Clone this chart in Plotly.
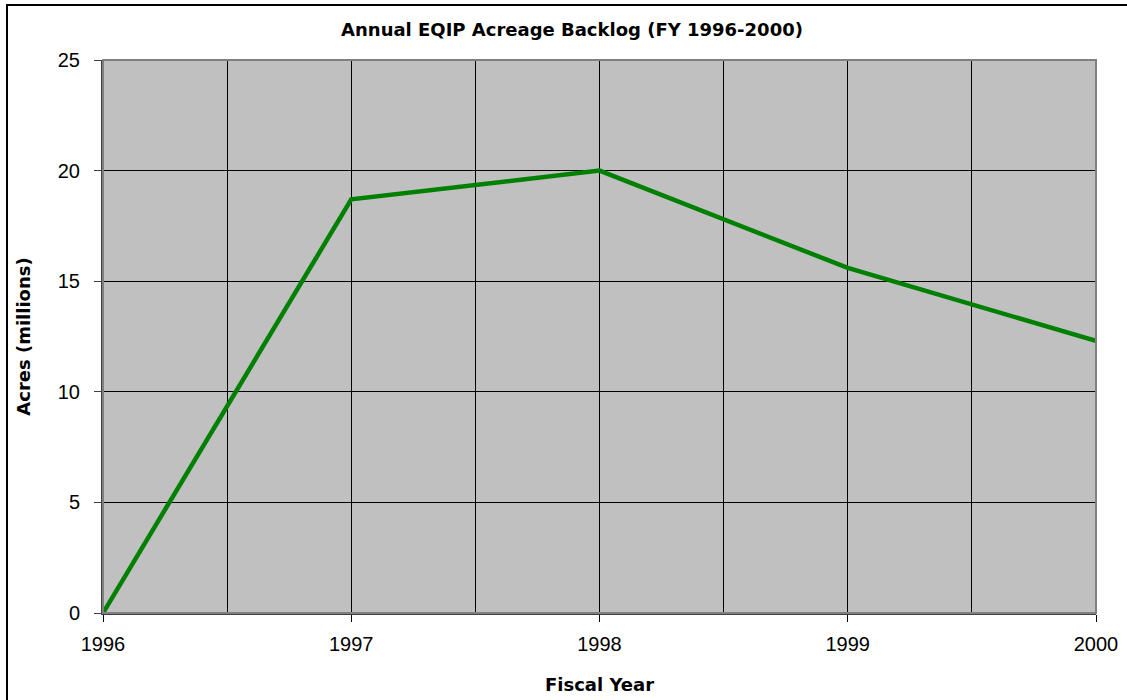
import plotly.graph_objects as go

years = [1996, 1997, 1998, 1999, 2000]
acres = [0.0, 18.7, 20.0, 15.6, 12.3]
year_labels = ["1996", "1997", "1998", "1999", "2000"]

L, R, T, B = 103, 31, 60, 87
W, H = 1127, 700
pw, ph = W - L - R, H - T - B

fig = go.Figure()
fig.add_trace(go.Scatter(x=years, y=acres, mode="lines",
                         line=dict(color="#008000", width=4.5),
                         cliponaxis=False, showlegend=False, hoverinfo="x+y"))

font = "Liberation Sans, Arial, sans-serif"
bold = "DejaVu Sans, Liberation Sans, sans-serif"
fig.update_layout(
    width=W, height=H,
    margin=dict(l=L, r=R, t=T, b=B, autoexpand=False),
    paper_bgcolor="white",
    plot_bgcolor="#C0C0C0",
    font=dict(family=font, color="black", size=20),
    title=dict(text="<b>Annual EQIP Acreage Backlog (FY 1996-2000)</b>",
               x=572 / W, xanchor="center", y=1 - 30 / H, yanchor="middle",
               font=dict(size=18, family=bold)),
    xaxis=dict(range=[1996, 2000], tickvals=years, ticktext=year_labels,
               showgrid=True, gridcolor="#000000", gridwidth=1,
               minor=dict(dtick=0.5, tick0=1996, showgrid=True, gridcolor="#000000", gridwidth=1),
               ticks="outside", ticklen=7, tickcolor="#000000",
               showline=True, linecolor="#404040", linewidth=2,
               zeroline=False, ticklabelstandoff=5, automargin=False,
               title=dict(text="<b>Fiscal Year</b>", font=dict(size=18, family=bold), standoff=24)),
    yaxis=dict(range=[0, 25], dtick=5, tick0=0,
               showgrid=True, gridcolor="#000000", gridwidth=1,
               ticks="outside", ticklen=7, tickcolor="#404040",
               showline=True, linecolor="#404040", linewidth=2,
               zeroline=False, ticklabelstandoff=10, automargin=False,
               title=dict(text="<b>Acres (millions)</b>", font=dict(size=18, family=bold), standoff=22)),
    shapes=[
        dict(type="rect", xref="paper", yref="paper", x0=0, x1=1, y0=0, y1=1,
             line=dict(color="#808080", width=2), layer="above"),
        dict(type="rect", xref="paper", yref="paper",
             x0=(7 - L) / pw, x1=(W + 5 - L) / pw,
             y0=(H - B - (H + 5)) / ph, y1=(H - B - 5) / ph,
             line=dict(color="#000000", width=2)),
    ],
)

fig.write_html("out.html", config={"displayModeBar": False},
               post_script="document.body.style.margin='0';document.body.style.overflow='hidden';")
